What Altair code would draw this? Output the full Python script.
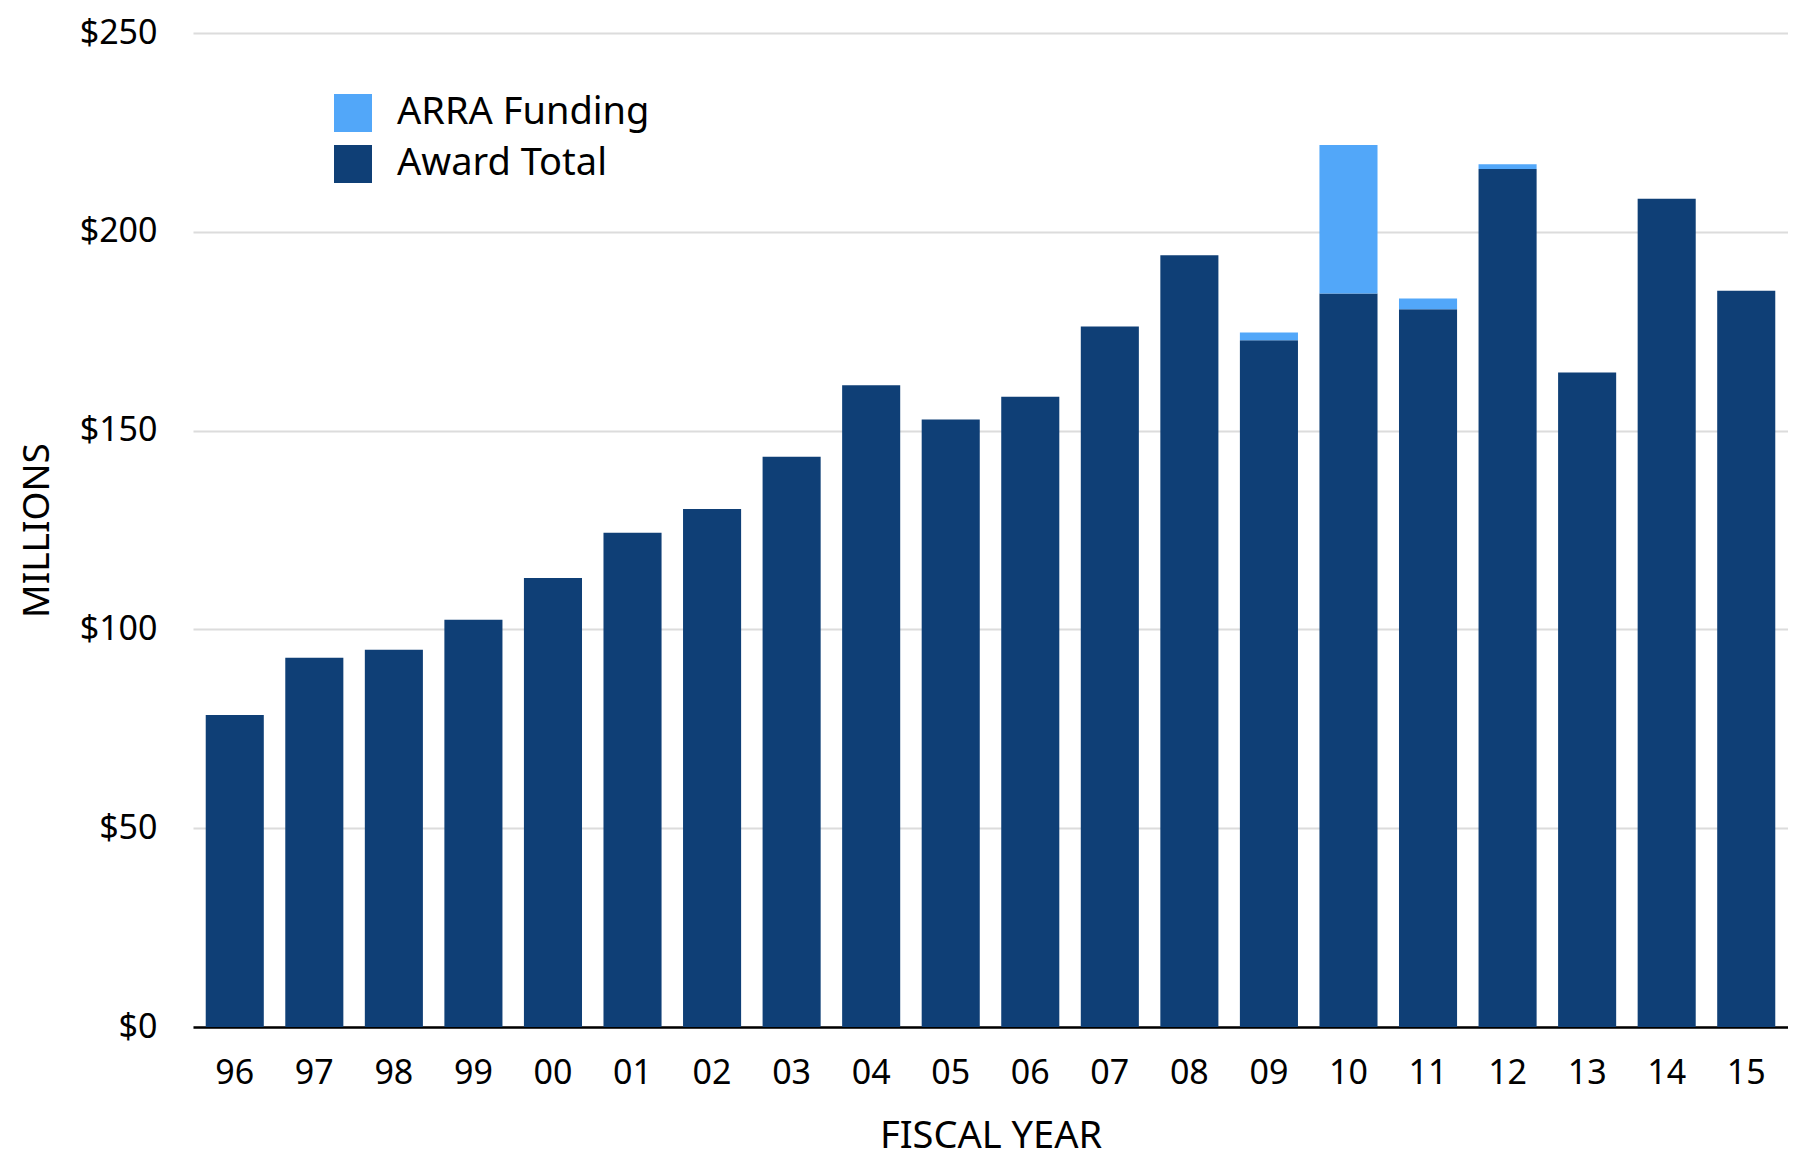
import altair as alt
import pandas as pd

years = ["96", "97", "98", "99", "00", "01", "02", "03", "04", "05",
         "06", "07", "08", "09", "10", "11", "12", "13", "14", "15"]
award_total = [78.5, 92.9, 94.9, 102.4, 112.9, 124.3, 130.3, 143.4, 161.4, 152.8,
               158.5, 176.2, 194.1, 172.7, 184.5, 180.5, 215.8, 164.6, 208.3, 185.2]
arra_funding = [0, 0, 0, 0, 0, 0, 0, 0, 0, 0,
                0, 0, 0, 2.0, 37.3, 2.7, 1.2, 0, 0, 0]
series = ["ARRA Funding", "Award Total"]
colors = ["#52a7f9", "#0f3f76"]

rows = []
for y, a, r in zip(years, award_total, arra_funding):
    rows.append({"year": y, "series": "Award Total", "value": a, "ord": 0})
    rows.append({"year": y, "series": "ARRA Funding", "value": r, "ord": 1})
df = pd.DataFrame(rows)

FONT = "Noto Sans"

chart = alt.Chart(df).mark_bar().encode(
    x=alt.X("year:N", sort=years,
            scale=alt.Scale(paddingInner=0.27, paddingOuter=0.16),
            axis=alt.Axis(title="FISCAL YEAR", labelAngle=0, ticks=False, tickSize=0,
                          labelPadding=29, labelFontSize=34, labelFont=FONT,
                          labelColor="#000000",
                          domainColor="#000000", domainWidth=2.5,
                          titleFont=FONT, titleFontSize=38, titleFontWeight="normal",
                          titleColor="#000000", titleBaseline="alphabetic", titleY=120)),
    y=alt.Y("value:Q", stack="zero",
            scale=alt.Scale(domain=[0, 250], nice=False),
            axis=alt.Axis(title="MILLIONS", values=[0, 50, 100, 150, 200, 250],
                          format="$,.0f", ticks=False, tickSize=0, domain=False,
                          labelPadding=36, labelFontSize=34, labelFont=FONT,
                          labelColor="#000000",
                          gridColor="#dcdcdc", gridWidth=2,
                          titleFont=FONT, titleFontSize=37, titleFontWeight="normal",
                          titleColor="#000000", titleBaseline="alphabetic", titleX=-145)),
    color=alt.Color("series:N",
                    scale=alt.Scale(domain=series, range=colors),
                    legend=alt.Legend(title=None, orient="none", legendX=141, legendY=61,
                                      symbolType="square", symbolSize=1444,
                                      symbolStrokeWidth=0, labelFont=FONT,
                                      labelFontSize=38, labelColor="#000000",
                                      labelOffset=25, rowPadding=13, padding=0,
                                      labelLimit=500)),
    order=alt.Order("ord:Q", sort="ascending"),
).properties(
    width=1595, height=994,
    autosize=alt.AutoSizeParams(type="none"),
    padding={"left": 185, "top": 25, "right": 0, "bottom": 132},
).configure_view(stroke=None)

chart.save("out.html", embed_options={"renderer": "svg", "actions": False})
